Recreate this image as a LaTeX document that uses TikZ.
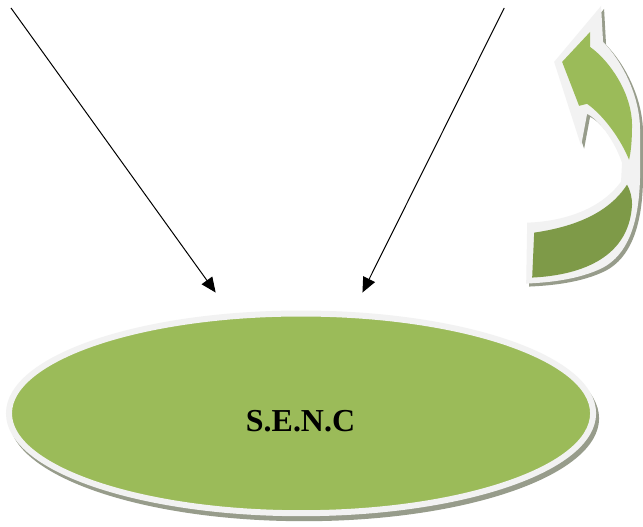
\documentclass[tikz,border=0pt]{standalone}
\usepackage{fontspec}
\setmainfont{Liberation Serif}
\usetikzlibrary{arrows.meta,shapes.geometric}
\definecolor{sencGreen}{HTML}{9BBB59}
\definecolor{sencOlive}{HTML}{7E9A48}
\definecolor{sencRim}{HTML}{F2F2F2}
\definecolor{sencShade}{HTML}{979C8B}
\definecolor{sencInk}{HTML}{000000}

\begin{document}
\begin{tikzpicture}[x=1pt,y=-1pt,>=Latex,line join=round]
\path[fill=white] (0,0) rectangle (643,527);
\tikzset{pointer/.style={draw=sencInk,line width=1pt,-{Triangle[length=15pt,width=13pt]}},hub/.style={ellipse,draw=sencRim,fill=sencGreen,line width=6pt,inner sep=0pt},rim/.style={fill=sencRim},shade/.style={fill=sencShade}}
\coordinate (leftfoot) at (11,8);
\coordinate (lefthead) at (216,293);
\coordinate (rightfoot) at (505,8);
\coordinate (righthead) at (363,293);
\draw[pointer] (leftfoot) -- (lefthead);
\draw[pointer] (rightfoot) -- (righthead);
\path[shade] (304.5,419) ellipse [x radius=295.5pt,y radius=103pt];
\node[hub,minimum width=585pt,minimum height=200pt] (senc) at (301.5,414) {};
\node[font=\bfseries\fontsize{32}{36}\selectfont,text=sencInk,inner sep=0pt] (senclabel) at (301,422) {S.E.N.C};
\path[shade,shift={(3,3)}] (602,6) -- (604,42) .. controls (622,60) and (641,95) .. (641,130) -- (641,178) .. controls (640,225) and (628,255) .. (604,268) .. controls (580,280) and (550,283) .. (527,284) -- (528,223) .. controls (560,222) and (600,212) .. (622,182) -- (623,163) .. controls (615,140) and (600,120) .. (588,114) -- (582,146) -- (555,62) -- cycle;
\path[rim] (602,6) -- (604,42) .. controls (622,60) and (641,95) .. (641,130) -- (641,178) .. controls (640,225) and (628,255) .. (604,268) .. controls (580,280) and (550,283) .. (527,284) -- (528,223) .. controls (560,222) and (600,212) .. (622,182) -- (623,163) .. controls (615,140) and (600,120) .. (588,114) -- (582,146) -- (555,62) -- cycle;
\path[fill=sencGreen] (591,32) -- (591,47) .. controls (612,62) and (633,95) .. (633,125) .. controls (633,140) and (632,152) .. (630,160) .. controls (622,140) and (605,116) .. (588,104) -- (580,106) -- (563,62) -- cycle;
\path[fill=sencOlive] (533,278) .. controls (575,276) and (630,262) .. (633,205) .. controls (633,197) and (631,190) .. (628,185) .. controls (615,205) and (590,225) .. (535,233) -- cycle;
\end{tikzpicture}
\end{document}
